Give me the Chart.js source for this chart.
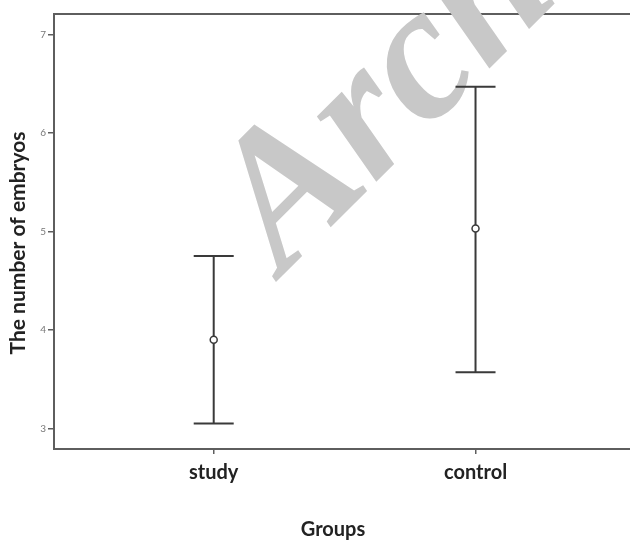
<!DOCTYPE html>
<html>
<head>
<meta charset="utf-8">
<script src="https://cdn.jsdelivr.net/npm/chart.js@4/dist/chart.umd.min.js"></script>
<style>
  html, body { margin: 0; padding: 0; background: #fff; overflow: hidden; }
  #wrap { width: 630px; height: 540px; }
  canvas { display: block; }
</style>
</head>
<body>
<div id="wrap"><canvas id="c" width="630" height="540"></canvas></div>
<script>
// ---- data ----
const categories = ['study', 'control'];
const means = [3.90, 5.03];
const lowerBounds = [3.05, 3.57];
const upperBounds = [4.75, 6.47];
const yTickValues = [3, 4, 5, 6, 7];
const yTitle = 'The number of embryos';
const xTitle = 'Groups';
const watermark = 'Archive';

const ink = '#3a3a3a';
const axisColor = '#5e5e5e';

const errorBarPlugin = {
  id: 'errorBars',
  beforeDatasetsDraw(chart) {
    const {ctx, scales: {x, y}} = chart;
    ctx.save();
    ctx.strokeStyle = ink;
    ctx.lineWidth = 2;
    categories.forEach((c, i) => {
      const px = x.getPixelForValue(i + 1);
      const yl = y.getPixelForValue(lowerBounds[i]);
      const yu = y.getPixelForValue(upperBounds[i]);
      ctx.beginPath();
      ctx.moveTo(px, yl); ctx.lineTo(px, yu);
      ctx.moveTo(px - 20, yu); ctx.lineTo(px + 20, yu);
      ctx.moveTo(px - 20, yl); ctx.lineTo(px + 20, yl);
      ctx.stroke();
    });
    ctx.restore();
  }
};

const titlesPlugin = {
  id: 'axisTitles',
  afterDraw(chart) {
    const {ctx} = chart;
    ctx.save();
    ctx.fillStyle = '#222';
    ctx.textAlign = 'center';
    ctx.textBaseline = 'middle';
    ctx.save();
    ctx.font = 'bold 21px Lato';
    ctx.translate(18, 243);
    ctx.rotate(-Math.PI / 2);
    ctx.fillText(yTitle, 0, 0);
    ctx.restore();
    ctx.font = 'bold 20px Lato';
    ctx.textBaseline = 'alphabetic';
    ctx.fillText(xTitle, 333, 536);
    ctx.restore();
  }
};

const watermarkPlugin = {
  id: 'watermark',
  beforeDatasetsDraw(chart) {
    const {ctx} = chart;
    ctx.save();
    ctx.translate(283, 275);
    ctx.rotate(-45 * Math.PI / 180);
    ctx.font = 'italic bold 192px "Liberation Serif"';
    ctx.fillStyle = '#c8c8c8';
    ctx.textBaseline = 'alphabetic';
    ctx.textAlign = 'left';
    ctx.fillText(watermark, 0, 0);
    ctx.restore();
  }
};

new Chart(document.getElementById('c'), {
  type: 'scatter',
  data: {
    datasets: [{
      data: categories.map((c, i) => ({x: i + 1, y: means[i]})),
      pointStyle: 'circle',
      pointRadius: 3.5,
      pointHoverRadius: 3.5,
      pointBackgroundColor: '#ffffff',
      pointBorderColor: ink,
      pointBorderWidth: 1.5,
      showLine: false
    }]
  },
  options: {
    responsive: false,
    animation: false,
    devicePixelRatio: 1,
    layout: { autoPadding: false, padding: { top: 14, right: 0, bottom: 0, left: 0 } },
    plugins: { legend: { display: false }, tooltip: { enabled: false } },
    scales: {
      x: {
        type: 'linear',
        position: 'bottom',
        min: 0.39,
        max: 2.59,
        afterBuildTicks: s => { s.ticks = categories.map((c, i) => ({value: i + 1})); },
        afterFit: s => { s.height = 91; s.paddingLeft = 0; s.paddingRight = 0; },
        ticks: {
          callback: (v) => categories[v - 1] || '',
          color: '#222',
          font: { family: 'Lato', weight: 'bold', size: 20 },
          padding: 7,
          maxRotation: 0,
          autoSkip: false
        },
        grid: { display: true, drawOnChartArea: false, drawTicks: true, tickLength: 5, color: axisColor, lineWidth: 1.5 },
        border: { display: true, color: axisColor, width: 2 },
        title: { display: false }
      },
      x2: {
        type: 'linear',
        position: 'top',
        min: 0.39, max: 2.59,
        ticks: { display: false },
        grid: { display: false, drawTicks: false },
        border: { display: true, color: axisColor, width: 2 },
        afterFit: s => { s.height = 0; s.paddingLeft = 0; s.paddingRight = 0; }
      },
      y: {
        type: 'linear',
        min: 2.79,
        max: 7.21,
        afterBuildTicks: s => { s.ticks = yTickValues.map(v => ({value: v})); },
        afterFit: s => { s.width = 54; },
        ticks: {
          color: '#777',
          font: { family: 'Lato', size: 10 },
          padding: 2
        },
        grid: { display: true, drawOnChartArea: false, drawTicks: true, tickLength: 6, color: axisColor, lineWidth: 1.5 },
        border: { display: true, color: axisColor, width: 2 },
        title: { display: false }
      }
    }
  },
  plugins: [watermarkPlugin, errorBarPlugin, titlesPlugin]
});
</script>
</body>
</html>
